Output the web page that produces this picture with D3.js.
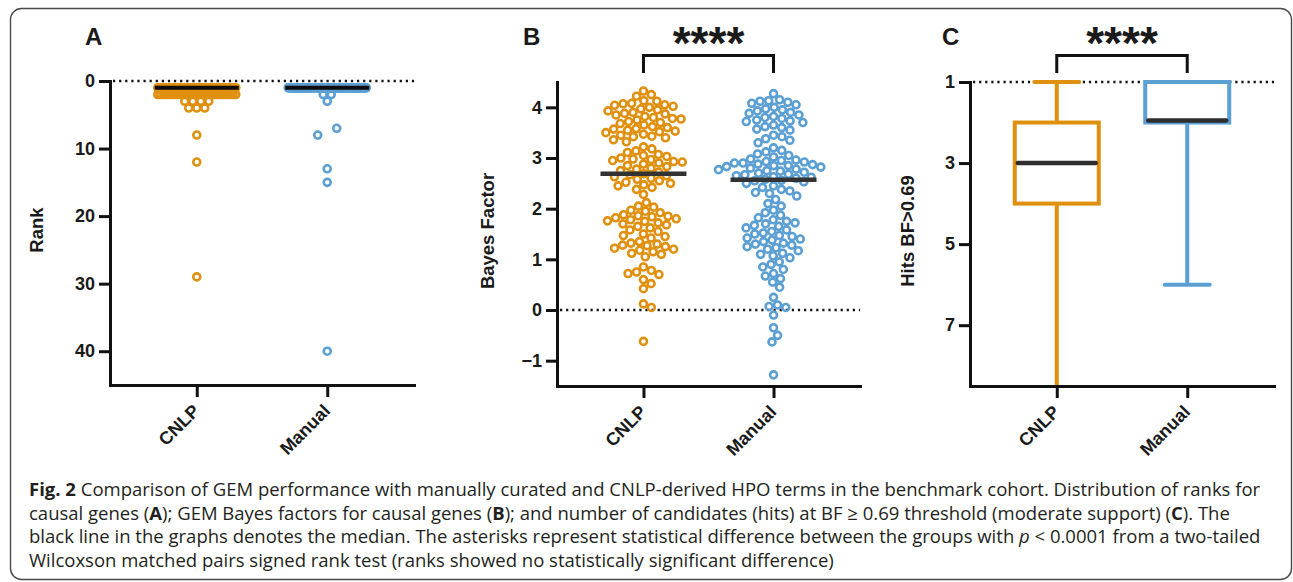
<!DOCTYPE html>
<html><head><meta charset="utf-8">
<script src="https://cdn.jsdelivr.net/npm/d3@7"></script>
<style>
html,body{margin:0;padding:0;background:#fff;}
svg{display:block;}
.lbl{font-family:"Liberation Sans",Arial,Helvetica,sans-serif;font-weight:bold;fill:#1a1a1a;}
.cap{font-family:"Open Sans",sans-serif;font-size:18.5px;fill:#231f20;}
</style></head><body>
<svg id="fig" width="1293" height="582"></svg>
<script>
// ---------------- data ----------------
const categories = ["CNLP", "Manual"];

// Panel A: rank of causal gene (value, and how many cases had it)
const rankValues       = [1, 2, 3, 4, 7, 8, 12, 13, 15, 29, 40];
const rankCountsCNLP   = [88, 30, 4, 3, 0, 1, 1, 0, 0, 1, 0];
const rankCountsManual = [120, 2, 1, 0, 1, 1, 0, 1, 1, 0, 1];
const rankTicks = [0, 10, 20, 30, 40];

// Panel B: Bayes factors for causal genes
const bayesCNLP = [
  4.32, 4.25, 4.22, 4.13, 4.12,
  4.08, 4.07, 4.05, 4.04, 4.02, 4.0,
  3.97, 3.95, 3.93, 3.9, 3.88, 3.87, 3.85,
  3.82, 3.8, 3.78, 3.77, 3.75, 3.72, 3.7,
  3.68, 3.65, 3.62, 3.6, 3.58, 3.57, 3.55, 3.53, 3.52, 3.5,
  3.47, 3.45, 3.43, 3.42, 3.4,
  3.36, 3.32, 3.22,
  3.18, 3.14, 3.11,
  3.07, 3.05, 3.03, 3.0, 2.98, 2.97, 2.95, 2.93, 2.92, 2.9,
  2.88, 2.85, 2.83, 2.8, 2.78, 2.75, 2.72, 2.69, 2.67,
  2.65, 2.63, 2.6, 2.58, 2.55, 2.52, 2.5,
  2.47, 2.45, 2.42, 2.38,
  2.28, 2.12, 2.05, 2.03,
  1.97, 1.95, 1.92, 1.88, 1.86, 1.85, 1.84, 1.82, 1.8,
  1.78, 1.76, 1.75, 1.72, 1.7, 1.68, 1.65, 1.62,
  1.58, 1.55, 1.5, 1.47, 1.45, 1.42,
  1.35, 1.32, 1.3, 1.28, 1.27, 1.25, 1.22, 1.2,
  1.18, 1.15, 1.12, 1.1, 1.05,
  0.85, 0.78, 0.75, 0.72, 0.7,
  0.6, 0.52, 0.42,
  0.12, 0.05,
  -0.62
];
const bayesManual = [
  4.27,
  4.15, 4.13, 4.12, 4.1, 4.08, 4.05,
  4.0, 3.97, 3.95, 3.93, 3.9, 3.88,
  3.85, 3.82, 3.8, 3.78, 3.75, 3.73, 3.72, 3.7,
  3.65, 3.62, 3.6, 3.57, 3.55,
  3.45, 3.42, 3.38, 3.35, 3.3,
  3.2, 3.15, 3.12, 3.08, 3.05, 3.02,
  2.98, 2.96, 2.95, 2.93, 2.92, 2.9, 2.9, 2.88, 2.87, 2.85, 2.85, 2.83, 2.82, 2.8,
  2.78, 2.77, 2.75, 2.74, 2.72, 2.7, 2.68, 2.67, 2.65, 2.63, 2.62, 2.6,
  2.58, 2.56, 2.55, 2.53, 2.5,
  2.45, 2.42, 2.38, 2.35, 2.32, 2.3,
  2.25, 2.18, 2.1, 2.05,
  1.97, 1.92, 1.87, 1.82,
  1.78, 1.75, 1.72, 1.7, 1.67, 1.65, 1.62,
  1.58, 1.55, 1.52, 1.5, 1.47, 1.45, 1.42, 1.4,
  1.38, 1.35, 1.32, 1.3, 1.28, 1.25, 1.23, 1.2,
  1.17, 1.12, 1.1, 1.07, 1.03,
  0.95, 0.9, 0.85, 0.8,
  0.72, 0.67, 0.62,
  0.55, 0.45,
  0.25,
  0.1, 0.07, 0.05,
  -0.1, -0.35, -0.5, -0.63, -1.28
];
const bayesTicks = [-1, 0, 1, 2, 3, 4];

// Panel C: hits with BF > 0.69 (box plot: min, q1, median, q3, max)
const boxStatNames = ["min", "q1", "median", "q3", "max"];
const hitsCNLP   = [1, 2, 3, 4, 9];
const hitsManual = [1, 1, 2, 2, 6];
const hitsTicks = [1, 3, 5, 7];

const significance = "****";
const yTitles = ["Rank", "Bayes Factor", "Hits BF>0.69"];
const panelLetters = ["A", "B", "C"];

// ---------------- style ----------------
const colors = { CNLP: "#E0900F", Manual: "#5B9FD3" };
const ink = "#111";
const svg = d3.select("#fig");

// frame
svg.append("rect").attr("x", 10.5).attr("y", 8.5).attr("width", 1281).attr("height", 571)
  .attr("rx", 11).attr("fill", "none").attr("stroke", "#4a4a4a").attr("stroke-width", 1.4);

// panel geometry
const P = [
  { x0: 110, x1: 414, yTop: 81, yBot: 385, letterX: 85, titleX: 43 },
  { x0: 557, x1: 860, yTop: 82, yBot: 386, letterX: 523, titleX: 494 },
  { x0: 970, x1: 1274, yTop: 82, yBot: 386, letterX: 942, titleX: 914 }
];
const yScales = [
  d3.scaleLinear().domain([0, 45]).range([P[0].yTop, P[0].yBot]),
  d3.scaleLinear().domain([4.5, -1.5]).range([P[1].yTop, P[1].yBot]),
  d3.scaleLinear().domain([1, 8.5]).range([P[2].yTop, P[2].yBot])
];
const xScales = P.map(p => d3.scalePoint().domain(categories).range([p.x0, p.x1]).padding(0.665));
const ticksArr = [rankTicks, bayesTicks, hitsTicks];
const refValues = [0, 0, 1];

function drawAxes(i) {
  const p = P[i], y = yScales[i], x = xScales[i];
  const g = svg.append("g");
  const ya = g.append("g").attr("transform", `translate(${p.x0},0)`)
    .call(d3.axisLeft(y).tickValues(ticksArr[i]).tickFormat(d3.format("d"))
      .tickSize(11).tickSizeOuter(0).tickPadding(4));
  const xa = g.append("g").attr("transform", `translate(0,${p.yBot})`)
    .call(d3.axisBottom(x).tickSize(12).tickSizeOuter(0));
  [ya, xa].forEach(a => {
    a.attr("font-family", null).attr("font-size", null);
    a.select(".domain").attr("stroke", ink).attr("stroke-width", 3).attr("stroke-linecap", "square");
    a.selectAll(".tick line").attr("stroke", ink).attr("stroke-width", 3);
  });
  ya.selectAll(".tick text").attr("class", "lbl").style("font-size", "18px").attr("fill", "#1a1a1a");
  xa.selectAll(".tick text").remove();
  categories.forEach(c => {
    const tx = x(c) + 4, ty = p.yBot + 27;
    g.append("text").attr("class", "lbl").style("font-size", "18px")
      .attr("x", tx).attr("y", ty).attr("text-anchor", "end")
      .attr("transform", `rotate(-45,${tx},${ty})`).text(c);
  });
  // y title
  const cy = (p.yTop + p.yBot) / 2 - 3;
  g.append("text").attr("class", "lbl").style("font-size", "18.5px")
    .attr("x", p.titleX).attr("y", cy).attr("text-anchor", "middle")
    .attr("transform", `rotate(-90,${p.titleX},${cy})`).text(yTitles[i]);
  // panel letter
  g.append("text").attr("class", "lbl").style("font-size", "24px")
    .attr("x", p.letterX).attr("y", 45).text(panelLetters[i]);
  // dotted reference line
  g.append("line").attr("x1", p.x0 + 3).attr("x2", p.x1)
    .attr("y1", y(refValues[i])).attr("y2", y(refValues[i]))
    .attr("stroke", ink).attr("stroke-width", 2.5).attr("stroke-dasharray", "2.2,3.9");
}
[0, 1, 2].forEach(drawAxes);

function bracket(i) {
  const x = xScales[i];
  const xa = x("CNLP"), xb = x("Manual"), yb = 55.5, ye = 73;
  svg.append("path").attr("d", `M${xa},${ye}V${yb}H${xb}V${ye}`)
    .attr("fill", "none").attr("stroke", ink).attr("stroke-width", 3);
  svg.append("text").attr("class", "lbl").style("font-size", "46px")
    .attr("x", (xa + xb) / 2).attr("y", 59).attr("text-anchor", "middle").text(significance);
}
bracket(1); bracket(2);

// ---------------- panel A ----------------
function rankRows(counts, y, cx) {
  const out = []; let prev = null;
  rankValues.forEach((v, i) => {
    const n = counts[i]; if (!n) return;
    const s = n > 1 ? Math.min(8, 78 / (n - 1)) : 0;
    const row = [];
    for (let k = 0; k < n; k++) row.push({ v, y: y(v), x: cx + (k - (n - 1) / 2) * s });
    if (n === 1 && prev && prev.length === 1 && Math.abs(prev[0].y - row[0].y) < 9) {
      prev[0].x = cx + 9.5; row[0].x = cx - 9.5;
    }
    out.push(...row); prev = row;
  });
  return out;
}
const ptStroke = 2.6, ptR = 3.5;
[["CNLP", rankCountsCNLP], ["Manual", rankCountsManual]].forEach(([c, counts]) => {
  const x = xScales[0], y = yScales[0];
  const pts = rankRows(counts, y, x(c));
  svg.append("g").selectAll("circle").data(pts).join("circle")
    .attr("cx", d => d.x).attr("cy", d => d.y).attr("r", ptR)
    .attr("fill", "none").attr("stroke", colors[c]).attr("stroke-width", ptStroke);
  const expanded = rankValues.flatMap((v, i) => Array(counts[i]).fill(v));
  const med = d3.median(expanded);
  svg.append("line").attr("x1", x(c) - 42).attr("x2", x(c) + 42)
    .attr("y1", y(med)).attr("y2", y(med)).attr("stroke", "#0d0d0d").attr("stroke-width", 4.2);
});

// ---------------- panel B ----------------
function swarm(values, y, cx, d) {
  const pts = values.map(v => ({ v, y: y(v), x: 0 })).sort((a, b) => a.y - b.y);
  const placed = [];
  for (const p of pts) {
    const cands = [0];
    for (const q of placed) {
      const dy = Math.abs(q.y - p.y);
      if (dy < d) { const dx = Math.sqrt(d * d - dy * dy); cands.push(q.x + dx, q.x - dx); }
    }
    cands.sort((a, b) => Math.abs(a) - Math.abs(b));
    for (const c of cands) {
      if (placed.every(q => (q.x - c) ** 2 + (q.y - p.y) ** 2 >= d * d - 0.01)) { p.x = c; break; }
    }
    placed.push(p);
  }
  return pts.map(p => ({ v: p.v, y: p.y, x: cx + p.x }));
}
[["CNLP", bayesCNLP], ["Manual", bayesManual]].forEach(([c, vals]) => {
  const x = xScales[1], y = yScales[1];
  const pts = swarm(vals, y, x(c), 8.6);
  svg.append("g").selectAll("circle").data(pts).join("circle")
    .attr("cx", d => d.x).attr("cy", d => d.y).attr("r", ptR)
    .attr("fill", "none").attr("stroke", colors[c]).attr("stroke-width", ptStroke);
  const med = d3.median(vals);
  svg.append("line").attr("x1", x(c) - 43).attr("x2", x(c) + 43)
    .attr("y1", y(med)).attr("y2", y(med)).attr("stroke", "#333").attr("stroke-width", 4.5);
});

// ---------------- panel C ----------------
svg.append("clipPath").attr("id", "clipC").append("rect")
  .attr("x", P[2].x0).attr("y", P[2].yTop - 4).attr("width", P[2].x1 - P[2].x0).attr("height", P[2].yBot - P[2].yTop + 3);
[["CNLP", hitsCNLP], ["Manual", hitsManual]].forEach(([c, stats]) => {
  const x = xScales[2], y = yScales[2];
  const s = Object.fromEntries(boxStatNames.map((k, i) => [k, stats[i]]));
  const cx = x(c), bw = 84, cw = 45, col = colors[c];
  const g = svg.append("g").attr("clip-path", "url(#clipC)");
  g.append("line").attr("x1", cx).attr("x2", cx).attr("y1", y(s.q1)).attr("y2", y(s.min))
    .attr("stroke", col).attr("stroke-width", 4);
  g.append("line").attr("x1", cx).attr("x2", cx).attr("y1", y(s.q3)).attr("y2", y(s.max))
    .attr("stroke", col).attr("stroke-width", 4);
  [s.min, s.max].forEach(v => g.append("line").attr("x1", cx - cw / 2).attr("x2", cx + cw / 2)
    .attr("y1", y(v)).attr("y2", y(v)).attr("stroke", col).attr("stroke-width", 4).attr("stroke-linecap", "round"));
  g.append("rect").attr("x", cx - bw / 2).attr("y", y(s.q1)).attr("width", bw).attr("height", y(s.q3) - y(s.q1))
    .attr("fill", "#fff").attr("stroke", col).attr("stroke-width", 4);
  const my = y(s.median) - (s.median === s.q3 ? 2 : 0);
  g.append("line").attr("x1", cx - bw / 2 + 3).attr("x2", cx + bw / 2 - 3).attr("y1", my).attr("y2", my)
    .attr("stroke", "#2e2e2e").attr("stroke-width", 4.5).attr("stroke-linecap", "round");
});

// ---------------- caption ----------------
const capLines = [
  [["b", "Fig. 2"], ["n", " Comparison of GEM performance with manually curated and CNLP-derived HPO terms in the benchmark cohort. Distribution of ranks for"]],
  [["n", "causal genes ("], ["b", "A"], ["n", "); GEM Bayes factors for causal genes ("], ["b", "B"], ["n", "); and number of candidates (hits) at BF \u2265 0.69 threshold (moderate support) ("], ["b", "C"], ["n", "). The"]],
  [["n", "black line in the graphs denotes the median. The asterisks represent statistical difference between the groups with "], ["i", "p"], ["n", " < 0.0001 from a two-tailed"]],
  [["n", "Wilcoxson matched pairs signed rank test (ranks showed no statistically significant difference)"]]
];
capLines.forEach((parts, li) => {
  const t = svg.append("text").attr("class", "cap").attr("x", 29).attr("y", 496 + li * 23.6);
  parts.forEach(([k, s]) => {
    const ts = t.append("tspan").text(s);
    if (k === "b") ts.attr("font-weight", "bold");
    if (k === "i") ts.attr("font-style", "italic");
  });
});
</script>
</body></html>
